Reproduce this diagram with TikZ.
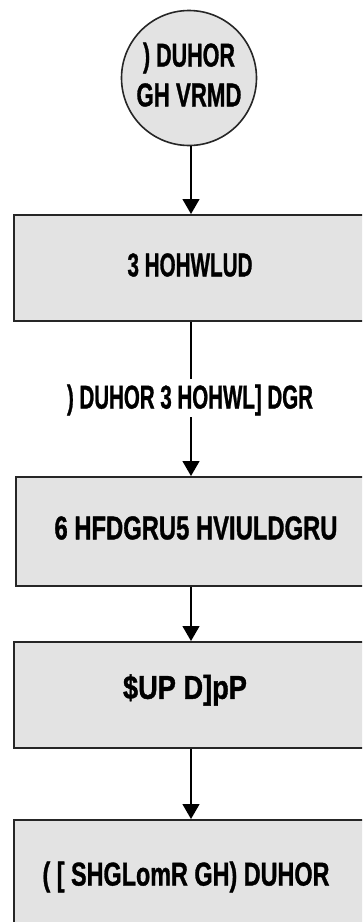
\documentclass[tikz,border=0pt]{standalone}
\usepackage{fontspec}
\usepackage{graphicx}
\usetikzlibrary{arrows.meta}
\newfontfamily\lblfont{Liberation Sans Bold}[FakeBold=1.2]
% set a label at a given width, keeping its natural height
\newcommand{\fitlabel}[2]{\resizebox{#1}{\height}{#2}}
\begin{document}
\begin{tikzpicture}[x=1pt,y=-1pt,
  stage/.style={draw=black!85,line width=1.6pt,fill=black!11,inner sep=0pt},
  link/.style={draw=black,line width=1.3pt},
  flow/.style={link,-{Triangle[width=17pt,length=15pt]}},
  txt/.style={font=\lblfont\fontsize{33}{38}\selectfont,inner sep=0pt,text=black}]
  \useasboundingbox (0,0) rectangle (362,922);
  \begin{scope}
    \clip (0,0) rectangle (362,922);
    % feed node
    \node[stage,circle,minimum size=135pt] (feed) at (189,78) {};
    % process boxes (right and lower parts run past the frame)
    \node[stage,minimum width=356pt,minimum height=106pt,anchor=north west] (pel) at (13,214) {};
    \node[stage,minimum width=356pt,minimum height=109pt,anchor=north west] (dry) at (15,476) {};
    \node[stage,minimum width=356pt,minimum height=106pt,anchor=north west] (sto) at (13,641) {};
    \node[stage,minimum width=356pt,minimum height=116pt,anchor=north west] (exp) at (13,819) {};
  \end{scope}
  \node[txt] (f1) at (189,58) {\fitlabel{92pt}{) DUHOR}};
  \node[txt] (f2) at (189,95) {\fitlabel{105pt}{GH VRMD}};
  \node[txt] (t1) at (190,265) {\fitlabel{125pt}{3 HOHWLUD}};
  \node[txt] (mid) at (190,400) {\fitlabel{246pt}{) DUHOR 3 HOHWL] DGR}};
  \node[txt] (t2) at (196,528) {\fitlabel{283pt}{6 HFDGRU5 HVIULDGRU}};
  \node[txt] (t3) at (185,690) {\fitlabel{124pt}{\$UP D]pP}};
  \node[txt] (t4) at (186,877) {\fitlabel{287pt}{( [ SHGLomR GH) DUHOR}};
  % connectors
  \coordinate (a1) at (191,379);
  \coordinate (a2) at (191,417);
  \draw[flow] (feed.south -| a1) -- (pel.north -| a1);
  \draw[link] (pel.south -| a1) -- (a1);
  \draw[flow] (a2) -- (dry.north -| a2);
  \draw[flow] (dry.south -| a2) -- (sto.north -| a2);
  \draw[flow] (sto.south -| a2) -- (exp.north -| a2);
\end{tikzpicture}
\end{document}
